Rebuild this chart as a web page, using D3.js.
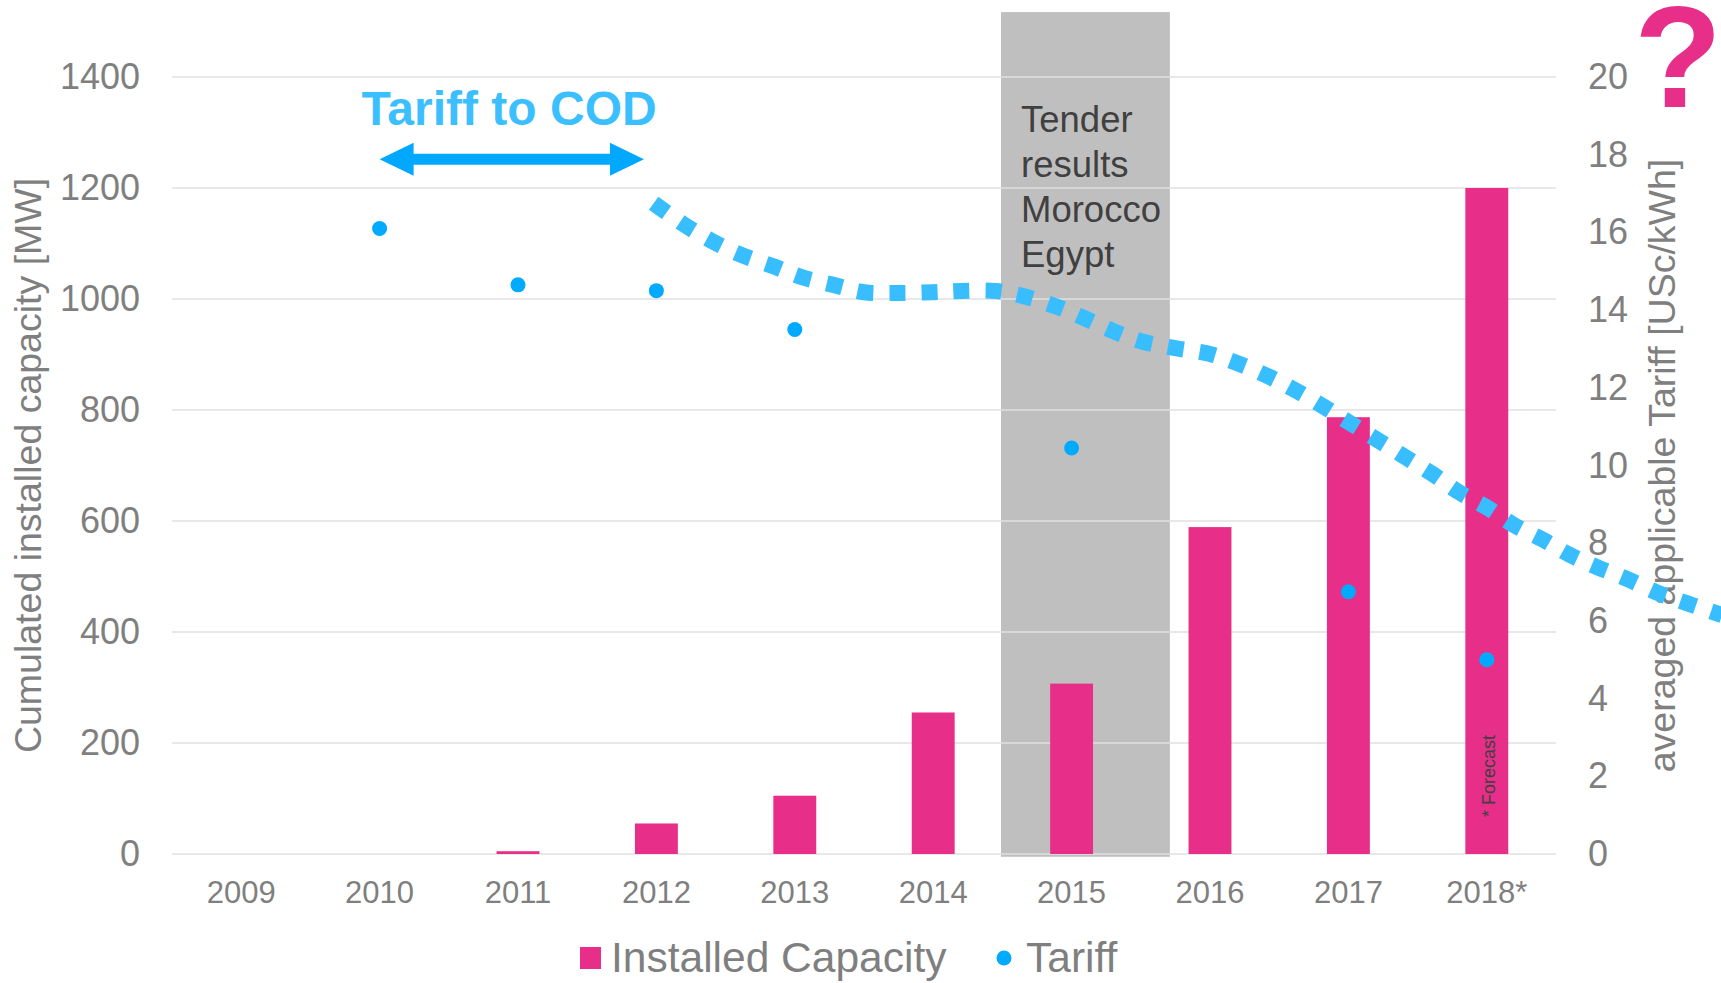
<!DOCTYPE html>
<meta charset="utf-8">
<style>
  body { margin: 0; background: #fff; }
  text { font-family: "Liberation Sans", Arial, sans-serif; }
  .grid line { stroke: #e0e0e0; stroke-width: 1.6; }
  .axis text { fill: #7f7f7f; }
  .axis-title { fill: #7f7f7f; font-size: 37.5px; }
</style>

<svg class="chart" width="1721" height="983"></svg>

<script src="https://cdn.jsdelivr.net/npm/d3@7"></script>
<script>

  // categories and series
  var years = ["2009", "2010", "2011", "2012", "2013", "2014", "2015", "2016", "2017", "2018*"];
  var capacity = [0, 0, 5, 55, 105, 255, 307, 589, 787, 1200];
  var tariff = [null, 16.1, 14.65, 14.5, 13.5, null, 10.45, null, 6.75, 5.0];

  // dotted trend curve (year, USc/kWh)
  var trendYears = [2011.98, 2012.2, 2012.4, 2012.6, 2012.85, 2013.05, 2013.3, 2013.5, 2013.75, 2014.0,
                    2014.2, 2014.45, 2014.65, 2014.9, 2015.1, 2015.3, 2015.5, 2015.75, 2016.0, 2016.2,
                    2016.4, 2016.6, 2016.8, 2017.0, 2017.2, 2017.4, 2017.6, 2017.8, 2018.0, 2018.2,
                    2018.4, 2018.6, 2018.8, 2019.0, 2019.25, 2019.45, 2019.7];
  var trendTariff = [16.75, 16.2, 15.78, 15.44, 15.12, 14.85, 14.63, 14.46, 14.44, 14.46,
                     14.49, 14.49, 14.36, 14.08, 13.78, 13.46, 13.2, 13.02, 12.87, 12.63,
                     12.33, 11.97, 11.56, 11.12, 10.68, 10.24, 9.8, 9.31, 8.92, 8.46,
                     8.1, 7.7, 7.38, 7.1, 6.7, 6.45, 6.15];

  var capTicks = [0, 200, 400, 600, 800, 1000, 1200, 1400];
  var tariffTicks = [0, 2, 4, 6, 8, 10, 12, 14, 16, 18, 20];

  // annotations (in data units)
  var tenderSpan = [2014.49, 2015.71];
  var tenderCap = [-5, 1517];
  var tenderLines = ["Tender", "results", "Morocco", "Egypt"];
  var arrowSpan = [2010.0, 2011.91];
  var arrowCap = 1252;

  var pink = "#e72e89",
      dotBlue = "#00aaff",
      lineBlue = "#38bdff";

  var svg = d3.select(".chart"),
      width = +svg.attr("width"),
      height = +svg.attr("height");

  var plotLeft = 172, plotRight = 1556, plotTop = 77, plotBottom = 854;

  var x = d3.scaleBand()
      .domain(years)
      .range([plotLeft, plotRight])
      .paddingInner(0.69)
      .paddingOuter(0.345);

  function xc(i) { return x(years[i]) + x.bandwidth() / 2; }

  var xYear = d3.scaleLinear()
      .domain([2009, 2018])
      .range([xc(0), xc(years.length - 1)]);

  var yCap = d3.scaleLinear().domain([0, 1400]).range([plotBottom, plotTop]);
  var yTar = d3.scaleLinear().domain([0, 20]).range([plotBottom, plotTop]);

  // grey tender box
  svg.append("rect")
      .attr("x", xYear(tenderSpan[0]))
      .attr("y", yCap(tenderCap[1]))
      .attr("width", xYear(tenderSpan[1]) - xYear(tenderSpan[0]))
      .attr("height", yCap(tenderCap[0]) - yCap(tenderCap[1]))
      .attr("fill", "#bfbfbf");

  // gridlines
  svg.append("g")
      .attr("class", "grid")
      .selectAll("line")
      .data(capTicks)
      .enter().append("line")
        .attr("x1", plotLeft)
        .attr("x2", plotRight)
        .attr("y1", function (d) { return yCap(d); })
        .attr("y2", function (d) { return yCap(d); });

  // bars
  svg.append("g")
      .selectAll("rect")
      .data(capacity)
      .enter().append("rect")
        .attr("x", function (d, i) { return x(years[i]); })
        .attr("y", function (d) { return yCap(d); })
        .attr("width", x.bandwidth())
        .attr("height", function (d) { return yCap(0) - yCap(d); })
        .attr("fill", pink);

  // tariff dots
  svg.append("g")
      .selectAll("circle")
      .data(tariff.map(function (d, i) { return {v: d, i: i}; }).filter(function (d) { return d.v != null; }))
      .enter().append("circle")
        .attr("cx", function (d) { return xc(d.i); })
        .attr("cy", function (d) { return yTar(d.v); })
        .attr("r", 7.5)
        .attr("fill", dotBlue);

  // tender text
  var tt = svg.append("text")
      .attr("x", xYear(tenderSpan[0]) + 20)
      .attr("y", 132)
      .attr("fill", "#404040")
      .style("font-size", "36.5px");
  tt.selectAll("tspan")
      .data(tenderLines)
      .enter().append("tspan")
        .attr("x", xYear(tenderSpan[0]) + 20)
        .attr("dy", function (d, i) { return i ? 45 : 0; })
        .text(function (d) { return d; });

  // forecast note inside last bar
  svg.append("text")
      .attr("transform", "translate(" + (xc(9) + 8) + "," + (plotBottom - 37) + ") rotate(-90)")
      .attr("fill", "#404040")
      .style("font-size", "18px")
      .text("* Forecast");

  // axes
  var xAxis = svg.append("g")
      .attr("class", "axis")
      .attr("transform", "translate(0," + plotBottom + ")")
      .call(d3.axisBottom(x).tickSize(0).tickPadding(27));
  xAxis.select(".domain").remove();
  xAxis.selectAll("text").style("font-size", "31px");

  var yAxis = svg.append("g")
      .attr("class", "axis")
      .attr("transform", "translate(" + plotLeft + ",0)")
      .call(d3.axisLeft(yCap).tickValues(capTicks).tickFormat(d3.format("d")).tickSize(0).tickPadding(32));
  yAxis.select(".domain").remove();
  yAxis.selectAll("text").style("font-size", "36px");

  var y2Axis = svg.append("g")
      .attr("class", "axis")
      .attr("transform", "translate(" + plotRight + ",0)")
      .call(d3.axisRight(yTar).tickValues(tariffTicks).tickSize(0).tickPadding(32));
  y2Axis.select(".domain").remove();
  y2Axis.selectAll("text").style("font-size", "36px");

  svg.append("text")
      .attr("class", "axis-title")
      .attr("transform", "translate(41," + (plotTop + plotBottom) / 2 + ") rotate(-90)")
      .attr("text-anchor", "middle")
      .text("Cumulated installed capacity [MW]");

  svg.append("text")
      .attr("class", "axis-title")
      .attr("transform", "translate(1675," + (plotTop + plotBottom) / 2 + ") rotate(-90)")
      .attr("text-anchor", "middle")
      .text("averaged applicable Tariff [USc/kWh]");

  // dotted trend
  var line = d3.line()
      .x(function (d, i) { return xYear(trendYears[i]); })
      .y(function (d) { return yTar(d); })
      .curve(d3.curveCatmullRom);

  svg.append("path")
      .datum(trendTariff)
      .attr("d", line)
      .attr("fill", "none")
      .attr("stroke", lineBlue)
      .attr("stroke-width", 16)
      .attr("stroke-dasharray", "16,16");

  // double arrow + label
  var ax1 = xYear(arrowSpan[0]), ax2 = xYear(arrowSpan[1]), ay = yCap(arrowCap);
  var hl = 34, hh = 16.5, sh = 5.5;
  svg.append("path")
      .attr("d", "M" + ax1 + "," + ay +
                 "L" + (ax1 + hl) + "," + (ay - hh) +
                 "L" + (ax1 + hl) + "," + (ay - sh) +
                 "L" + (ax2 - hl) + "," + (ay - sh) +
                 "L" + (ax2 - hl) + "," + (ay - hh) +
                 "L" + ax2 + "," + ay +
                 "L" + (ax2 - hl) + "," + (ay + hh) +
                 "L" + (ax2 - hl) + "," + (ay + sh) +
                 "L" + (ax1 + hl) + "," + (ay + sh) +
                 "L" + (ax1 + hl) + "," + (ay + hh) + "Z")
      .attr("fill", "#00a8ff");

  svg.append("text")
      .attr("x", xYear(2009.87))
      .attr("y", 125)
      .attr("fill", "#3cbfff")
      .style("font-size", "48px")
      .style("font-weight", "bold")
      .text("Tariff to COD");

  // big question mark
  svg.append("text")
      .attr("x", width - 87)
      .attr("y", 107)
      .attr("fill", pink)
      .style("font-size", "144px")
      .style("font-weight", "bold")
      .text("?");

  // legend
  var lg = svg.append("g");
  lg.append("rect")
      .attr("x", 580).attr("y", 947)
      .attr("width", 21).attr("height", 22)
      .attr("fill", pink);
  lg.append("text")
      .attr("x", 611).attr("y", 972)
      .attr("fill", "#7f7f7f")
      .style("font-size", "42.5px")
      .text("Installed Capacity");
  lg.append("circle")
      .attr("cx", 1004).attr("cy", 958).attr("r", 7.5)
      .attr("fill", dotBlue);
  lg.append("text")
      .attr("x", 1026).attr("y", 972)
      .attr("fill", "#7f7f7f")
      .style("font-size", "42.5px")
      .text("Tariff");

</script>
